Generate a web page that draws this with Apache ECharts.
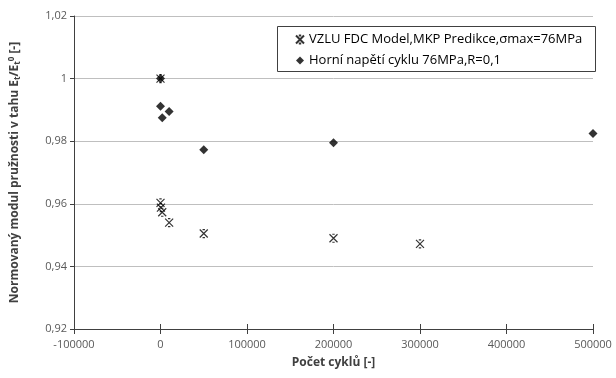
<!DOCTYPE html>
<html><head><meta charset="utf-8">
<script src="https://cdn.jsdelivr.net/npm/echarts@6/dist/echarts.min.js"></script>
<style>html,body{margin:0;padding:0;background:#fff}#c{width:616px;height:378px}</style>
</head><body><div id="c"></div>
<script>
var seriesNames = ['VZLU FDC Model,MKP Predikce,σmax=76MPa', 'Horní napětí cyklu 76MPa,R=0,1'];
var modelCycles = [0, 0, 500, 2000, 10000, 50000, 200000, 300000];
var modelValues = [1.0, 0.9603, 0.9588, 0.9573, 0.9540, 0.9505, 0.9490, 0.9472];
var testCycles = [0, 0, 2000, 10000, 50000, 200000, 500000];
var testValues = [1.0, 0.9912, 0.9875, 0.9895, 0.9773, 0.9795, 0.9825];
var xTicks = [-100000, 0, 100000, 200000, 300000, 400000, 500000];
var yTicks = [0.92, 0.94, 0.96, 0.98, 1.0, 1.02];
var xAxisTitle = 'Počet cyklů [-]';

function pairs(xs, ys){ return xs.map(function(x,i){ return [x, ys[i]]; }); }
var font = 'Open Sans';
var starPath = 'path://M0,0L10,10M10,0L0,10M3.5,0L6.5,0M3.5,10L6.5,10';

var baseX = {
  type: 'value', min: xTicks[0], max: xTicks[xTicks.length-1], interval: xTicks[1]-xTicks[0],
  position: 'bottom', splitLine: {show:false}
};
var chart = echarts.init(document.getElementById('c'));
chart.setOption({
  animation: false,
  textStyle: {fontFamily: font},
  grid: {left: 72, right: 23, top: 16, bottom: 49, containLabel: false},
  xAxis: [
    Object.assign({}, baseX, {
      name: xAxisTitle, nameLocation: 'middle', nameGap: 28,
      nameTextStyle: {fontFamily: font, fontWeight: 'bold', fontSize: 12, color: '#404040'},
      axisLine: {onZero: false, lineStyle: {color: '#404040', width: 1}},
      axisTick: {show: true, inside: false, length: 5, lineStyle: {color: '#404040'}},
      axisLabel: {fontFamily: font, fontSize: 11, color: '#595959', margin: 10,
        formatter: function(v){ return String(v); }}
    }),
    Object.assign({}, baseX, {
      axisLine: {show: false, onZero: false},
      axisTick: {show: true, inside: true, length: 5, lineStyle: {color: '#404040'}},
      axisLabel: {show: false}
    })
  ],
  yAxis: {
    type: 'value', min: yTicks[0], max: yTicks[yTicks.length-1], interval: 0.02,
    name: '{a|Normovaný modul pružnosti v tahu E}{s|t}{a|/E}{s|t}{p|0}{a| [-]}',
    nameLocation: 'middle', nameGap: 52, nameRotate: 90,
    nameTextStyle: {
      rich: {
        a: {fontFamily: font, fontWeight: 'bold', fontSize: 12, color: '#404040'},
        s: {fontFamily: font, fontWeight: 'bold', fontSize: 8, color: '#404040', verticalAlign: 'bottom', padding: [6,0,0,0]},
        p: {fontFamily: font, fontWeight: 'bold', fontSize: 8, color: '#404040', verticalAlign: 'top', padding: [0,0,6,0]}
      }
    },
    axisLine: {show: true, onZero: false, lineStyle: {color: '#404040', width: 1}},
    axisTick: {show: true, inside: false, length: 4, lineStyle: {color: '#404040'}},
    axisLabel: {fontFamily: font, fontSize: 11, color: '#595959', margin: 7,
      formatter: function(v){ return String(parseFloat(v.toFixed(2))).replace('.', ','); }},
    splitLine: {show: true, lineStyle: {color: '#bfbfbf', width: 1}}
  },
  legend: {
    orient: 'vertical', left: 290, top: 28, itemGap: 8, itemWidth: 8, itemHeight: 8,
    textStyle: {fontFamily: font, fontSize: 13, color: '#000'},
    data: [{name: seriesNames[0]}, {name: seriesNames[1]}]
  },
  graphic: [{
    type: 'rect', left: 277, top: 26, shape: {width: 318, height: 45},
    style: {fill: 'rgba(0,0,0,0)', stroke: '#404040', lineWidth: 1}, z: 100, silent: true
  }],
  series: [
    {
      name: seriesNames[0], type: 'scatter', symbol: starPath, symbolSize: 8,
      itemStyle: {color: 'rgba(0,0,0,0)', borderColor: '#000', borderWidth: 1.2},
      data: pairs(modelCycles, modelValues), z: 3
    },
    {
      name: seriesNames[1], type: 'scatter', symbol: 'diamond', symbolSize: 9,
      itemStyle: {color: '#000'},
      data: pairs(testCycles, testValues), z: 2
    }
  ]
});
</script></body></html>
